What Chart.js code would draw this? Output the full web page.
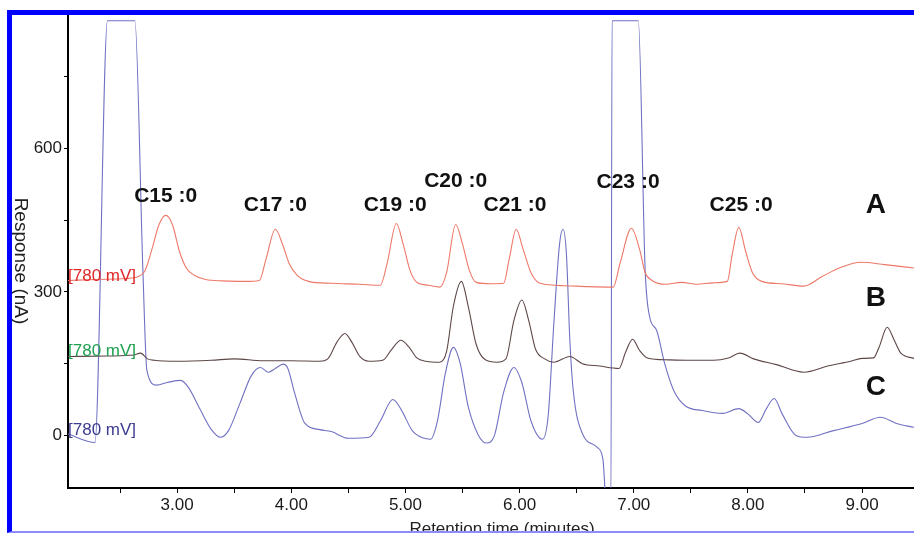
<!DOCTYPE html>
<html>
<head>
<meta charset="utf-8">
<script src="https://cdn.jsdelivr.net/npm/chart.js@4.4.1/dist/chart.umd.min.js"></script>
<style>
  html, body { margin: 0; padding: 0; background: #fff; overflow: hidden; }
  #wrap { position: relative; width: 914px; height: 533px; overflow: hidden; }
  #frame { position: absolute; left: 7px; top: 10px; width: 1000px; height: 516px;
           border-top: 5px solid #0000ff; border-left: 5px solid #0000ff; border-bottom: 2px solid #8c8cff; }
  #chart { position: absolute; left: 0; top: 0; }
</style>
</head>
<body>
<div id="wrap">
  <canvas id="chart" width="914" height="533"></canvas>
  <div id="frame"></div>
</div>
<script>
// trace A (top, red)
const timeA = [2.044, 2.30, 2.55, 2.66, 2.72, 2.78, 2.84, 2.90, 2.96, 3.02, 3.08, 3.15, 3.25, 3.40, 3.60, 3.72, 3.78, 3.86, 3.93, 3.98, 4.05, 4.15, 4.35, 4.60, 4.78, 4.84, 4.92, 4.98, 5.04, 5.10, 5.20, 5.30, 5.36, 5.44, 5.50, 5.56, 5.62, 5.75, 5.86, 5.91, 5.97, 6.03, 6.10, 6.18, 6.40, 6.60, 6.82, 6.88, 6.98, 7.05, 7.10, 7.16, 7.28, 7.42, 7.55, 7.70, 7.82, 7.86, 7.92, 7.98, 8.04, 8.12, 8.30, 8.49, 8.65, 8.80, 8.99, 9.20, 9.455];
const respA = [324, 326, 328, 332, 345, 390, 440, 460, 440, 385, 350, 335, 326, 323, 322, 324, 370, 431, 395, 360, 335, 322, 318, 316, 314, 360, 443, 400, 345, 320, 314, 310, 340, 441, 400, 345, 320, 317, 318, 370, 431, 390, 340, 318, 313, 311, 310, 360, 433, 390, 340, 324, 316, 320, 316, 319, 322, 375, 435, 385, 340, 322, 317, 312, 332, 350, 362, 357, 350];

// trace B (middle, dark)
const timeB = [2.044, 2.40, 2.62, 2.68, 2.74, 2.80, 3.00, 3.30, 3.50, 3.75, 4.00, 4.25, 4.32, 4.40, 4.47, 4.53, 4.60, 4.68, 4.80, 4.88, 4.96, 5.03, 5.10, 5.18, 5.30, 5.36, 5.42, 5.49, 5.55, 5.62, 5.70, 5.80, 5.88, 5.95, 6.02, 6.08, 6.14, 6.22, 6.30, 6.44, 6.55, 6.70, 6.87, 6.93, 6.99, 7.05, 7.12, 7.30, 7.50, 7.70, 7.83, 7.93, 8.05, 8.25, 8.49, 8.70, 8.90, 9.00, 9.10, 9.15, 9.22, 9.28, 9.34, 9.455];
const respB = [165, 166, 168, 172, 160, 157, 155, 157, 160, 156, 156, 155, 160, 195, 213, 195, 165, 155, 157, 180, 199, 185, 162, 155, 153, 175, 270, 322, 270, 190, 158, 153, 160, 240, 283, 240, 180, 160, 153, 165, 150, 145, 140, 175, 201, 178, 162, 158, 157, 157, 162, 172, 160, 148, 132, 145, 155, 161, 162, 185, 226, 200, 172, 161];

// trace C (bottom, blue)
const timeC = [2.044, 2.28, 2.39, 2.63, 2.70, 2.735, 2.82, 2.92, 3.03, 3.10, 3.20, 3.30, 3.38, 3.45, 3.55, 3.65, 3.73, 3.80, 3.86, 3.93, 3.97, 4.03, 4.12, 4.25, 4.35, 4.50, 4.68, 4.78, 4.89, 4.96, 5.06, 5.15, 5.22, 5.28, 5.35, 5.42, 5.48, 5.55, 5.64, 5.71, 5.78, 5.86, 5.95, 6.02, 6.10, 6.20, 6.25, 6.30, 6.35, 6.38, 6.41, 6.44, 6.47, 6.55, 6.68, 6.73, 6.76, 6.80, 6.81, 7.04, 7.10, 7.14, 7.20, 7.27, 7.35, 7.45, 7.60, 7.78, 7.92, 8.00, 8.09, 8.16, 8.23, 8.30, 8.42, 8.52, 8.75, 9.00, 9.16, 9.30, 9.455];
const respC = [3, -15, 867, 867, 345, 136, 105, 111, 115, 100, 55, 12, -4, 10, 67, 125, 142, 132, 140, 149, 140, 88, 25, 12, 8, -6, -4, 30, 75, 55, 10, -5, -8, 30, 130, 184, 150, 60, 0, -16, 0, 90, 142, 110, 30, -8, 40, 234, 400, 431, 380, 200, 94, 4, -25, -50, -140, -140, 867, 867, 345, 247, 220, 151, 94, 62, 52, 46, 56, 45, 27, 55, 77, 45, 0, -4, 10, 25, 38, 25, 17];

// peak annotations (retention time, response level of the text)
const peakNames = ['C15 :0', 'C17 :0', 'C19 :0', 'C20 :0', 'C21 :0', 'C23 :0', 'C25 :0'];
const peakTimes = [2.90, 3.86, 4.91, 5.44, 5.96, 6.95, 7.94];
const peakLevels = [500, 481, 481, 532, 481, 530, 481];

const traceNames = ['A', 'B', 'C'];
const traceLevels = [481, 287, 100];
const traceNameTime = 9.12;

const potentialLabel = '[780 mV]';
const potentialLevels = [333, 176, 10];

const xTicks = [2.5, 3, 3.5, 4, 4.5, 5, 5.5, 6, 6.5, 7, 7.5, 8, 8.5, 9];
const yTicks = [0, 150, 300, 450, 600, 750];
const yLabelled = [0, 300, 600];

const FONT = "'Liberation Sans', Arial, sans-serif";
const traceColors = ['#ee7868', '#5e4747', '#7071c2'];
const labelColors = ['#e0282a', '#1ea050', '#3c3c90'];

function pts(t, r) {
    return t.map((v, i) => ({ x: v, y: r[i] }));
}

const annotations = {
    id: 'annotations',
    afterDatasetsDraw(chart) {
        const ctx = chart.ctx;
        const xs = chart.scales.x;
        const ys = chart.scales.y;
        ctx.save();
        ctx.fillStyle = '#111';
        ctx.textAlign = 'center';
        ctx.textBaseline = 'middle';
        ctx.font = 'bold 21px ' + FONT;
        peakNames.forEach((name, i) => {
            ctx.fillText(name, xs.getPixelForValue(peakTimes[i]), ys.getPixelForValue(peakLevels[i]));
        });
        ctx.font = 'bold 28px ' + FONT;
        traceNames.forEach((name, i) => {
            ctx.fillText(name, xs.getPixelForValue(traceNameTime), ys.getPixelForValue(traceLevels[i]));
        });
        ctx.textAlign = 'left';
        ctx.font = '17px ' + FONT;
        potentialLevels.forEach((lvl, i) => {
            ctx.fillStyle = labelColors[i];
            ctx.fillText(potentialLabel, chart.chartArea.left, ys.getPixelForValue(lvl));
        });
        // axis titles
        ctx.fillStyle = '#222';
        ctx.textAlign = 'center';
        ctx.textBaseline = 'top';
        ctx.font = '17px ' + FONT;
        ctx.fillText('Retention time (minutes)', 502, 521);
        ctx.translate(20, 261);
        ctx.rotate(Math.PI / 2);
        ctx.textBaseline = 'middle';
        ctx.font = '19px ' + FONT;
        ctx.fillText('Response (nA)', 0, 0);
        ctx.restore();
    }
};

new Chart(document.getElementById('chart'), {
    type: 'line',
    data: {
        datasets: [
            { label: 'A', data: pts(timeA, respA), borderColor: traceColors[0] },
            { label: 'B', data: pts(timeB, respB), borderColor: traceColors[1] },
            { label: 'C', data: pts(timeC, respC), borderColor: traceColors[2] }
        ]
    },
    options: {
        responsive: false,
        animation: false,
        events: [],
        layout: { padding: { top: 15, left: 0, right: 0, bottom: 0 } },
        elements: {
            line: { borderWidth: 1.1, cubicInterpolationMode: 'monotone', fill: false },
            point: { radius: 0 }
        },
        plugins: { legend: { display: false }, tooltip: { enabled: false } },
        scales: {
            x: {
                type: 'linear',
                min: 2.044,
                max: 9.455,
                afterFit(scale) { scale.height = 45; },
                afterBuildTicks(scale) { scale.ticks = xTicks.map(v => ({ value: v })); },
                border: { display: true, color: '#000', width: 2 },
                grid: { display: true, drawOnChartArea: false, tickLength: 5, color: '#000' },
                ticks: {
                    autoSkip: false,
                    maxRotation: 0,
                    padding: 2,
                    color: '#1a1a1a',
                    font: { family: FONT, size: 17 },
                    callback: v => Number.isInteger(v) ? v.toFixed(2) : ''
                }
            },
            y: {
                min: -110,
                max: 879,
                afterFit(scale) { scale.width = 68; },
                afterBuildTicks(scale) { scale.ticks = yTicks.map(v => ({ value: v })); },
                border: { display: true, color: '#000', width: 2 },
                grid: { display: true, drawOnChartArea: false, tickLength: 4, color: '#000' },
                ticks: {
                    padding: 2,
                    color: '#1a1a1a',
                    font: { family: FONT, size: 17 },
                    callback: v => yLabelled.includes(v) ? String(v) : ''
                }
            }
        }
    },
    plugins: [annotations]
});
</script>
</body>
</html>
